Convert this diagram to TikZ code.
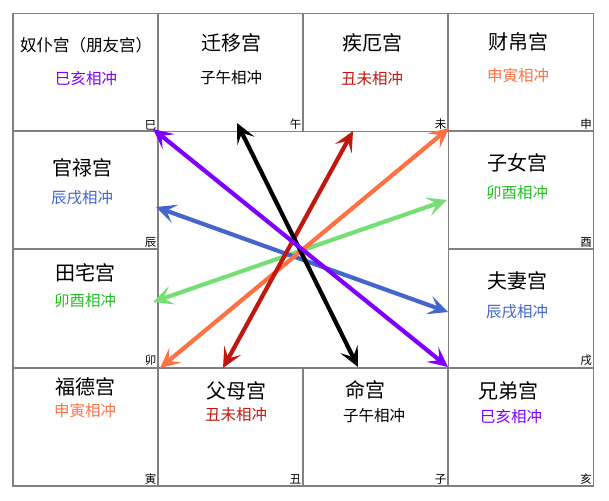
\documentclass[tikz,border=0pt]{standalone}
\usepackage{fontspec}
\setmainfont{Noto Sans CJK SC}
\usetikzlibrary{arrows.meta}
\definecolor{sihai}{HTML}{8000FF}
\definecolor{chouwei}{HTML}{C0180F}
\definecolor{shenyin}{HTML}{FF7043}
\definecolor{maoyou}{HTML}{74E074}
\definecolor{maoyoutxt}{HTML}{22C022}
\definecolor{chenxu}{HTML}{4466CC}
\tikzset{cell/.style={draw=gray,line width=1.2pt,minimum width=145pt,minimum height=118pt,inner sep=0pt},
  palace/.style={font=\fontsize{20}{20}\selectfont},
  clash/.style={font=\fontsize{15.5}{15.5}\selectfont},
  branch/.style={font=\fontsize{11.5}{11.5}\selectfont,anchor=south east,inner sep=2pt},
  chong/.style={line width=4.2pt,{Stealth[length=20pt,width=19pt,inset=9pt]}-{Stealth[length=20pt,width=19pt,inset=9pt]}}}

\begin{document}
\begin{tikzpicture}[x=1pt,y=-1pt]
\useasboundingbox (0,0) rectangle (609,500);
% the twelve cells, one per branch
\foreach \n/\cx/\cy/\b in {si/85.5/72.5/巳, wu/230.5/72.5/午, wei/375.5/72.5/未, shen/521/72.5/申,
    chen/85.5/190/辰, you/521/190/酉, mao/85.5/308.5/卯, xu/521/308.5/戌,
    yin/85.5/427/寅, chou/230.5/427/丑, zi/375.5/427/子, hai/521/427/亥}
  {\node[cell] (\n) at (\cx,\cy) {};
   \node[branch] (\n-b) at (\n.south east) {\b};}

% palace names and clashes
\node[palace,font=\fontsize{16.5}{16.5}\selectfont] (nupu) at (86,45) {奴仆宫（朋友宫）};
\node[clash,text=sihai] (nupu-c) at (86,79) {巳亥相冲};
\node[palace] (qianyi) at (231,43) {迁移宫};
\node[clash] (qianyi-c) at (231,78) {子午相冲};
\node[palace] (jie) at (372,43) {疾厄宫};
\node[clash,text=chouwei] (jie-c) at (372,79) {丑未相冲};
\node[palace] (caibo) at (518,42) {财帛宫};
\node[clash,text=shenyin] (caibo-c) at (518,76) {申寅相冲};
\node[palace] (guanlu) at (82,168) {官禄宫};
\node[clash,text=chenxu] (guanlu-c) at (82,198) {辰戌相冲};
\node[palace] (tianzhai) at (85,273) {田宅宫};
\node[clash,text=maoyoutxt] (tianzhai-c) at (85,301) {卯酉相冲};
\node[palace] (zinv) at (517,163) {子女宫};
\node[clash,text=maoyoutxt] (zinv-c) at (517,193) {卯酉相冲};
\node[palace] (fuqi) at (517,281) {夫妻宫};
\node[clash,text=chenxu] (fuqi-c) at (517,312) {辰戌相冲};
\node[palace] (fude) at (85,387) {福德宫};
\node[clash,text=shenyin] (fude-c) at (85,411) {申寅相冲};
\node[palace] (fumu) at (236,391) {父母宫};
\node[clash,text=chouwei] (fumu-c) at (236,415) {丑未相冲};
\node[palace] (ming) at (365,390) {命宫};
\node[clash] (ming-c) at (374,416) {子午相冲};
\node[palace] (xiongdi) at (508,391) {兄弟宫};
\node[clash,text=sihai] (xiongdi-c) at (511,417) {巳亥相冲};

% arrow ends
\coordinate (si-e) at (153,129);
\coordinate (hai-e) at (448,367);
\coordinate (wu-e) at (237,123);
\coordinate (zi-e) at (358,367);
\coordinate (wei-e) at (353,131);
\coordinate (chou-e) at (223,368);
\coordinate (shen-e) at (449,128);
\coordinate (yin-e) at (160,368);
\coordinate (you-e) at (447,200);
\coordinate (mao-e) at (153,302);
\coordinate (chen-e) at (156,207);
\coordinate (xu-e) at (448,312);

\draw[chong,maoyou] (mao-e) -- (you-e);
\draw[chong,chenxu] (chen-e) -- (xu-e);
\draw[chong,shenyin] (yin-e) -- (shen-e);
\draw[chong,chouwei] (chou-e) -- (wei-e);
\draw[chong,black] (wu-e) -- (zi-e);
\draw[chong,sihai] (si-e) -- (hai-e);
\end{tikzpicture}
\end{document}
